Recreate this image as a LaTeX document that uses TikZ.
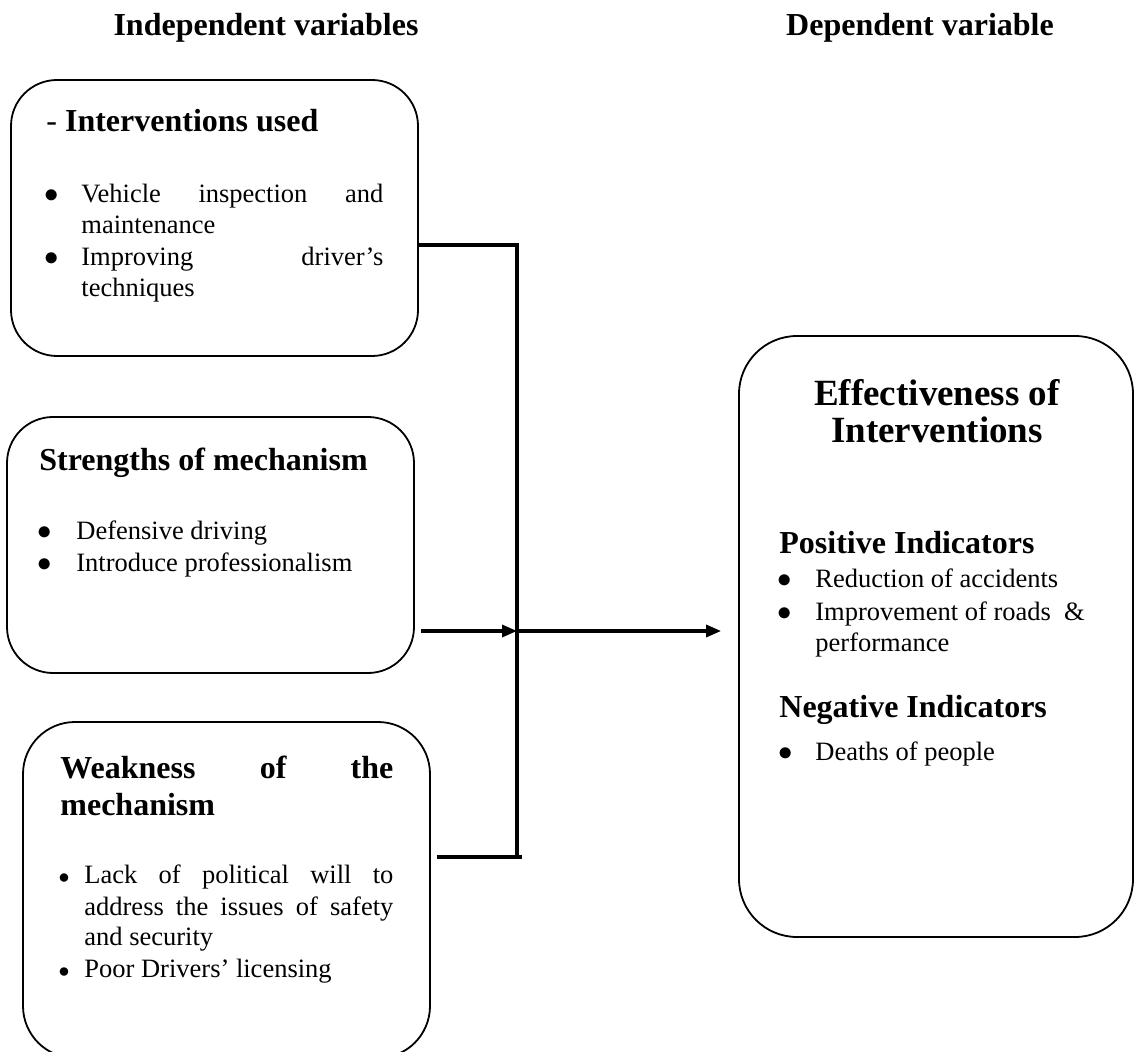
\documentclass[tikz,border=0pt]{standalone}
\usepackage{fontspec}
\setmainfont{Liberation Serif}
\usetikzlibrary{arrows.meta}
\usetikzlibrary{fit}
\usetikzlibrary{positioning}

\newcommand{\jline}[2]{\makebox[#1][s]{#2}}

\begin{document}
\begin{tikzpicture}[x=0.5pt,y=-0.5pt,
  box/.style={draw,line width=0.9pt,inner sep=0pt},
  conn/.style={line width=1.6pt},
  txt/.style={anchor=base west,inner sep=0pt,font=\fontsize{13.25pt}{15pt}\selectfont},
  hd/.style={anchor=base west,inner sep=0pt,font=\fontsize{16pt}{19pt}\selectfont\bfseries},
  bighd/.style={anchor=base,inner sep=0pt,font=\fontsize{18.5pt}{22pt}\selectfont\bfseries},
  dot/.style={anchor=base,inner sep=0pt,font=\fontsize{13.25pt}{15pt}\selectfont},
  smalldot/.style={dot,font=\fontsize{11pt}{13pt}\selectfont},
  bigdot/.style={dot,font=\fontsize{15.5pt}{17pt}\selectfont}]
\useasboundingbox (0,0) rectangle (1134,1052);

% column titles
\node[hd,anchor=base] (indep) at (266,36) {Independent variables};
\node[hd,anchor=base] (dep) at (920,36) {Dependent variable};

% boxes
\node[box,rounded corners=23pt,fit={(11,80) (418,356)}] (iv1) {};
\node[box,rounded corners=23pt,fit={(7,417) (414,673)}] (iv2) {};
\node[box,rounded corners=26pt,fit={(23,722) (430,1058)}] (iv3) {};
\node[box,rounded corners=29pt,fit={(739,336) (1133,937)}] (dv) {};

% interventions used
\node[hd] (iv1h) at (46,132) {{\mdseries -} Interventions used};
\node[dot] (b11) at (52,203) {$\bullet$};
\node[txt] (l11) at (81,203) {\jline{151pt}{Vehicle inspection and}};
\node[txt] (l12) at (81,234) {maintenance};
\node[dot] (b12) at (52,266) {$\bullet$};
\node[txt] (l13) at (81,266) {\jline{151pt}{Improving driver's}};
\node[txt] (l14) at (81,297) {techniques};

% strengths
\node[hd] (iv2h) at (39,471) {Strengths of mechanism};
\node[dot] (b21) at (45,540) {$\bullet$};
\node[txt] (l21) at (76,540) {Defensive driving};
\node[dot] (b22) at (45,572) {$\bullet$};
\node[txt] (l22) at (76,572) {Introduce professionalism};

% weakness
\node[hd] (iv3h) at (60,778) {\jline{166.5pt}{Weakness of the}};
\node[hd] (iv3h2) at (60,815) {mechanism};
\node[smalldot] (b31) at (64,883) {$\bullet$};
\node[txt] (l31) at (84,883) {\jline{154.5pt}{Lack of political will to}};
\node[txt] (l32) at (84,915) {\jline{154.5pt}{address the issues of safety}};
\node[txt] (l33) at (84,945) {and security};
\node[smalldot] (b32) at (64,977) {$\bullet$};
\node[txt] (l34) at (84,977) {Poor Drivers' licensing};

% effectiveness
\node[bighd] (dvh1) at (937,406) {Effectiveness of};
\node[bighd] (dvh2) at (937,443) {Interventions};
\node[hd] (pos) at (779,554) {Positive Indicators};
\node[dot] (b41) at (785,588) {$\bullet$};
\node[txt] (l41) at (815,588) {Reduction of accidents};
\node[dot] (b42) at (785,620) {$\bullet$};
\node[txt] (l42) at (815,620) {Improvement of roads~~\&};
\node[txt] (l43) at (815,651) {performance};
\node[hd] (neg) at (779,717) {Negative Indicators};
\node[bigdot] (b51) at (786,760) {$\bullet$};
\node[txt] (l51) at (815,760) {Deaths of people};

% connectors
\coordinate (jt) at (517,245);
\coordinate (jm) at (517,631);
\coordinate (jb) at (517,857);
\draw[conn] (iv1.east |- jt) -- (jt) -- (jb);
\draw[conn] ([xshift=3pt]iv3.east |- jb) -- ([xshift=2.5pt]jb);
\draw[conn,-{Triangle[length=7.5pt,width=6pt]}] ([xshift=3pt]iv2.east |- jm) -- (jm);
\draw[conn,-{Triangle[length=7.5pt,width=6pt]}] (jm) -- ([xshift=-8.5pt]dv.west |- jm);
\end{tikzpicture}
\end{document}
